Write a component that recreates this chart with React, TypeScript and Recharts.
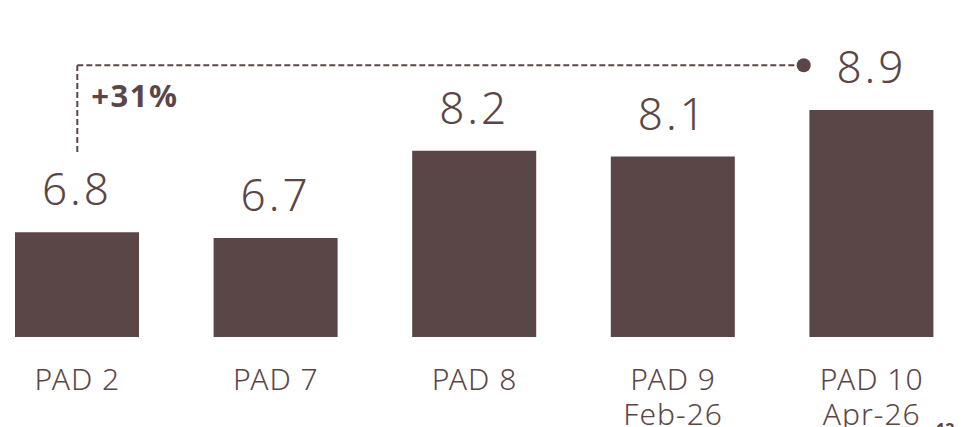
import * as React from 'react';
import { Bar, BarChart, LabelList, ReferenceLine, XAxis, YAxis } from 'recharts';

const pads = ['PAD 2', 'PAD 7', 'PAD 8', 'PAD 9', 'PAD 10'];
const dates = ['', '', '', 'Feb-26', 'Apr-26'];
const values = [6.8, 6.7, 8.2, 8.1, 8.9];
const growthLabel = '+31%';
const bracketTop = 9.67;
const bracketBottom = 8.18;

const BROWN = '#5b4647';
const FONT = '"Noto Sans", "DejaVu Sans", sans-serif';

const data = pads.map((p, i) => ({ pad: p, date: dates[i], value: values[i] }));

function PadTick(props: any) {
    const { x, y, payload, index } = props;
    const date = dates[index] ?? '';
    return (
        <g transform={`translate(${x},${y})`}>
            <text
                textAnchor="middle"
                fill={BROWN}
                fontFamily={FONT}
                fontSize={30}
                fontWeight={300}
                letterSpacing={1}
            >
                <tspan x={0} y={45}>{payload.value}</tspan>
                {date && <tspan x={0} y={80}>{date}</tspan>}
            </text>
        </g>
    );
}

function ValueLabel(props: any) {
    const { x, y, width, value } = props;
    return (
        <text
            x={x + width / 2}
            y={y - 27}
            textAnchor="middle"
            fill={BROWN}
            fontFamily={FONT}
            fontSize={44}
            fontWeight={300}
            letterSpacing={3}
        >
            {value}
        </text>
    );
}

// elbow line end: stop short of the last bar and put a dot there
function BracketTop(props: any) {
    const { x1, y1, x2, y2 } = props;
    const endX = x2 - 68;
    return (
        <g>
            <line x1={x1} y1={y1} x2={endX} y2={y2} stroke={BROWN} strokeWidth={2} strokeDasharray="6 3" />
            <circle cx={endX} cy={y2} r={7} fill={BROWN} />
            <text
                x={x1 + 14}
                y={y1 + 42}
                fill={BROWN}
                fontFamily={FONT}
                fontSize={31}
                fontWeight={700}
                letterSpacing={1.5}
            >
                {growthLabel}
            </text>
        </g>
    );
}

export default function App() {
    return (
        <div
            style={{
                position: 'absolute',
                left: 0,
                top: 0,
                width: 963,
                height: 427,
                overflow: 'hidden',
                background: '#fff',
            }}
        >
            <div style={{ position: 'absolute', left: -22, top: 0 }}>
                <BarChart
                    width={993}
                    height={427}
                    data={data}
                    margin={{ top: 46, right: 0, left: 0, bottom: 0 }}
                >
                    <XAxis
                        dataKey="pad"
                        axisLine={false}
                        tickLine={false}
                        height={90}
                        interval={0}
                        tick={<PadTick />}
                    />
                    <YAxis hide domain={[5, 10]} allowDataOverflow />
                    <ReferenceLine
                        segment={[
                            { x: 'PAD 2', y: bracketBottom },
                            { x: 'PAD 2', y: bracketTop },
                        ]}
                        stroke={BROWN}
                        strokeWidth={2}
                        strokeDasharray="6 3"
                    />
                    <ReferenceLine
                        segment={[
                            { x: 'PAD 2', y: bracketTop },
                            { x: 'PAD 10', y: bracketTop },
                        ]}
                        shape={<BracketTop />}
                    />
                    <Bar dataKey="value" fill={BROWN} barSize={124} isAnimationActive={false}>
                        <LabelList dataKey="value" content={<ValueLabel />} />
                    </Bar>
                </BarChart>
            </div>
            <div
                style={{
                    position: 'absolute',
                    left: 936,
                    top: 419,
                    fontFamily: FONT,
                    fontSize: 16,
                    fontWeight: 700,
                    color: BROWN,
                    lineHeight: '20px',
                }}
            >
                12
            </div>
        </div>
    );
}
